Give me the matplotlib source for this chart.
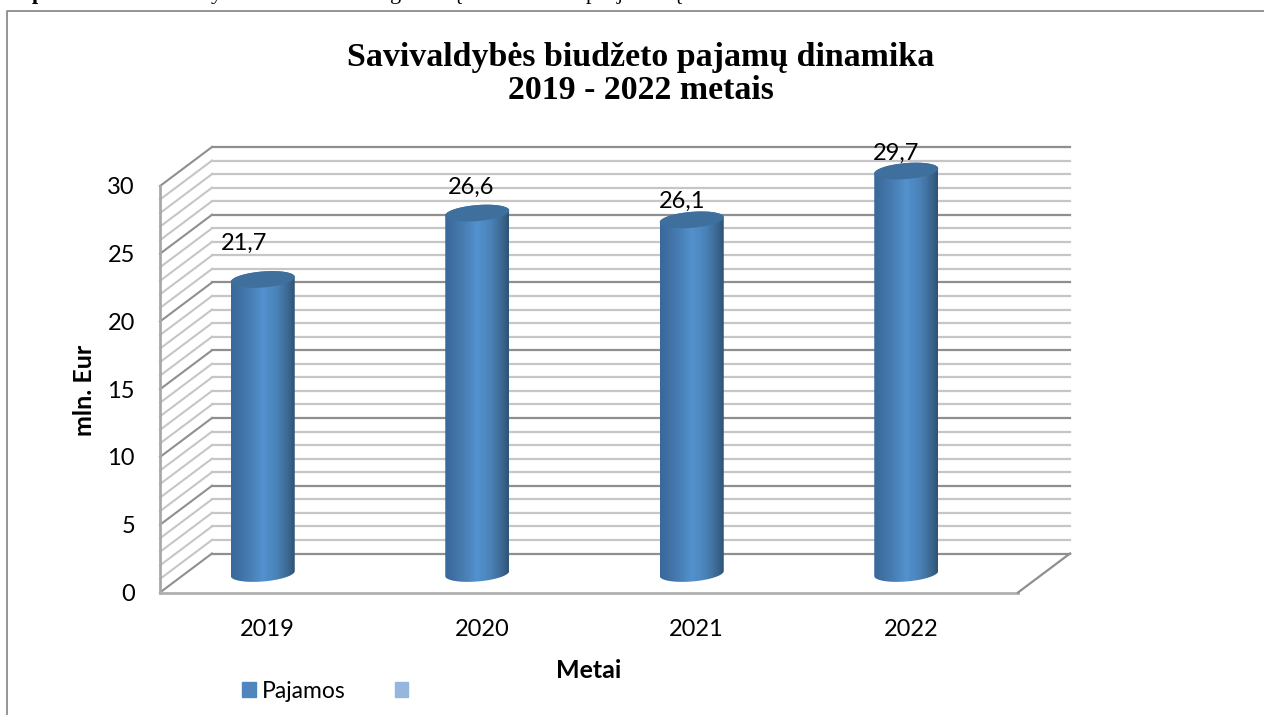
import numpy as np
import matplotlib
matplotlib.use('Agg')
import matplotlib.pyplot as plt
from matplotlib.colors import LinearSegmentedColormap
from matplotlib.lines import Line2D
from matplotlib.patches import Patch, Polygon

years = ['2019', '2020', '2021', '2022']
values = [21.7, 26.6, 26.1, 29.7]
value_labels = ['21,7', '26,6', '26,1', '29,7']
y_ticks = [0, 5, 10, 15, 20, 25, 30]
series_names = ['Pajamos', '']
title_text = 'Savivaldybės biudžeto pajamų dinamika\n2019 - 2022 metais'

# tails of the caption line cut off by the top of the picture
cut_letters = ['p', 'y', 'g', 'ą', 'p', 'j', 'ą']
cut_letters_x = [32, 211, 390, 451, 586, 617, 671]

W, H = 1264, 715
PX_X = 214.5   # pixels per category
PX_Y = 13.55   # pixels per unit
DEPTH_X = 52 / PX_X
DEPTH_Y = 39 / PX_Y
BAR_SHIFT = -4.5 / PX_X
BAR_HALF = 32 / PX_X
BAR_LIFT = 19 / PX_Y
ELL_B = 8 / PX_Y
ELL_TILT = 2.5 / PX_Y

label_nudge = [(-18.5, 55), (-6, 45), (-10, 38), (-10, 37)]

SANS = 'Lato'
SERIF = 'Liberation Serif'
MAJOR = '#8f8f8f'
MINOR = '#c6c6c6'

fig = plt.figure(figsize=(W / 100, H / 100), dpi=100)
ax = fig.add_axes([160 / W, 1 - 592.5 / H, 911 / W, 446.5 / H])
ax.set_facecolor('none')
x_left = -0.5
x_right = x_left + 858 / PX_X

# walls and grid, one line per unit
for v in range(0, 31):
    is_major = v % 5 == 0
    col = MAJOR if is_major else MINOR
    ax.plot([x_left, x_left + DEPTH_X], [v, v + DEPTH_Y], color=col, lw=1.5, zorder=1, clip_on=False)
    ax.plot([x_left + DEPTH_X, x_right + DEPTH_X], [v + DEPTH_Y, v + DEPTH_Y], color=col, lw=1.6,
            zorder=1, clip_on=False)
ax.plot([x_left, x_left], [0, 30], color='#a8a8a8', lw=2, zorder=2, clip_on=False)
ax.plot([x_left, x_right], [0, 0], color='#b0b0b0', lw=2, zorder=2, clip_on=False)
ax.plot([x_right, x_right + DEPTH_X], [0, DEPTH_Y], color=MAJOR, lw=1.6, zorder=2, clip_on=False)

cyl = LinearSegmentedColormap.from_list('cyl', [
    (0.0, '#39689a'), (0.25, '#4679ae'), (0.5, '#5292ce'),
    (0.72, '#4a82b8'), (0.88, '#3d6a94'), (1.0, '#2e5476')])
grad = np.linspace(0, 1, 128).reshape(1, -1)
t = np.linspace(0, 2 * np.pi, 121)

for i, val in enumerate(values):
    cx = i + BAR_SHIFT
    top = val + BAR_LIFT
    ex = cx + BAR_HALF * np.cos(t)
    top_y = top + ELL_B * np.sin(t) + ELL_TILT * np.cos(t)
    low_y = BAR_LIFT + ELL_B * np.sin(t) + ELL_TILT * np.cos(t)
    # outline of body: upper half of top ellipse then lower half of the base
    body = np.vstack([
        np.column_stack([ex[:61], top_y[:61]]),
        np.column_stack([ex[60:], low_y[60:]]),
    ])
    clip = Polygon(body, closed=True, transform=ax.transData, fc='none', ec='none')
    ax.add_patch(clip)
    im = ax.imshow(grad, extent=[cx - BAR_HALF, cx + BAR_HALF, 0, top + 1], cmap=cyl,
                   aspect='auto', zorder=4)
    im.set_clip_path(clip)
    ax.fill(ex, top_y, color='#3f6f9c', lw=0, zorder=5)
    dx, dy = label_nudge[i]
    ax.annotate(value_labels[i], (cx, val), xytext=(dx * 0.72, dy * 0.72), textcoords='offset points',
                ha='center', va='center', fontsize=17, family=SANS, color='black', zorder=6)

ax.set_xlim(x_left, x_left + 911 / PX_X)
ax.set_ylim(0, 446.5 / PX_Y)
ax.set_xticks(range(len(years)))
ax.set_xticklabels(years, family=SANS, fontsize=17)
ax.set_yticks(y_ticks)
ax.set_yticklabels([str(v) for v in y_ticks], family=SANS, fontsize=17)
ax.tick_params(length=0)
ax.tick_params(axis='x', pad=19)
ax.tick_params(axis='y', pad=18)
for s in ax.spines.values():
    s.set_visible(False)

fig.text(85 / W, 1 - 390 / H, 'mln. Eur', rotation=90, ha='center', va='center',
         family=SANS, fontweight='bold', fontsize=18)
fig.text(589 / W, 1 - 671 / H, 'Metai', ha='center', va='center',
         family=SANS, fontweight='bold', fontsize=18)
fig.text(640.5 / W, 1 - 74 / H, title_text, ha='center', va='center', family=SERIF,
         fontweight='bold', fontsize=24.4, linespacing=1.1)

handles = [Patch(color='#4f86bd'), Patch(color='#95b7de')]
fig.legend(handles, series_names, loc='center left', bbox_to_anchor=(242 / W, 1 - 691 / H),
           frameon=False, prop={'family': SANS, 'size': 16.5}, ncol=2,
           handlelength=0.61, handleheight=0.61, handletextpad=0.26, columnspacing=2.13,
           borderpad=0, borderaxespad=0)

# chart frame, runs off the right and bottom of the picture
frame = Line2D([6.5 / W, 6.5 / W, 1], [0, 1 - 10.5 / H, 1 - 10.5 / H], transform=fig.transFigure,
               color='#8c8c8c', lw=1.3)
fig.add_artist(frame)

for ch, x in zip(cut_letters, cut_letters_x):
    bold = 'bold' if x < 100 else 'normal'
    fig.text(x / W, 1 + 1 / H, ch, family=SERIF, fontsize=16, fontweight=bold, va='baseline')

fig.savefig('out.png', dpi=100)
